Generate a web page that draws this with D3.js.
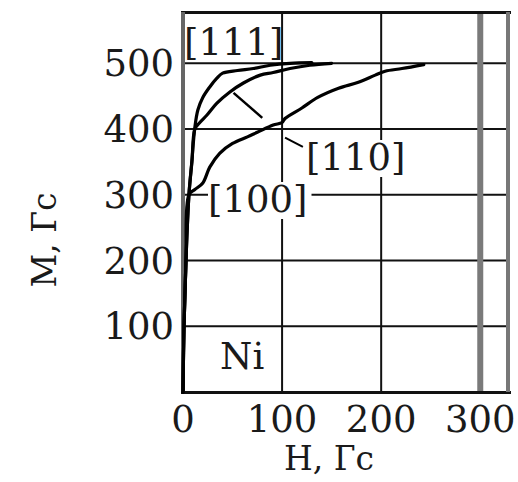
<!DOCTYPE html>
<html>
<head>
<meta charset="utf-8">
<script src="https://cdn.jsdelivr.net/npm/d3@7/dist/d3.min.js"></script>
<style>
  html, body { margin: 0; padding: 0; background: #fff; }
  svg { display: block; }
  text { font-family: "DejaVu Serif", serif; fill: #1a1a1a; }
</style>
</head>
<body>
<svg id="chart" width="518" height="482"></svg>
<script>
// ---- data (H in Oe, M in G) ----
const hTicks = [0, 100, 200, 300];
const mTicks = [100, 200, 300, 400, 500];
const hTickLabels = ["0", "100", "200", "300"];
const mTickLabels = ["100", "200", "300", "400", "500"];

const h111 = [0, 1, 3, 6, 9, 12, 15, 20, 27, 34, 40, 55, 71, 88, 108, 130];
const m111 = [0, 100, 200, 300, 352, 403, 429, 448, 464, 477, 485, 489, 492, 497, 500, 501];

const h110 = [0, 1, 3, 6, 9, 12, 17, 24, 34, 47, 61, 78, 91, 108, 128, 150];
const m110 = [0, 100, 200, 300, 350, 400, 410, 421, 439, 456, 470, 482, 486, 492, 497, 500];

const h100 = [0, 1, 3, 6, 12, 20, 27, 37, 50, 65, 75, 91, 100, 103, 120, 136, 157, 177, 194, 204, 221, 243];
const m100 = [0, 100, 200, 300, 308, 318, 342, 363, 378, 388, 395, 406, 410, 416, 432, 448, 462, 471, 482, 488, 492, 498];

const seriesNames = ["[111]", "[110]", "[100]"];
const materialLabel = "Ni";
const xTitle = "H, Гс";
const yTitle = "M, Гс";

// ---- layout ----
const svg = d3.select("#chart");
const x = d3.scaleLinear().domain([0, 328]).range([183, 508]);
const y = d3.scaleLinear().domain([0, 578]).range([392, 12]);

const gGrid = svg.append("g");
const gCurves = svg.append("g");
const gBg = svg.append("g");
const gText = svg.append("g");

// grid: horizontal
gGrid.append("g").selectAll("line").data(mTicks).join("line")
  .attr("x1", x(0)).attr("x2", x(328))
  .attr("y1", d => y(d)).attr("y2", d => y(d))
  .attr("stroke", "#111").attr("stroke-width", 2);

// grid: vertical
gGrid.append("g").selectAll("line").data(hTicks.filter(d => d > 0)).join("line")
  .attr("x1", d => x(d)).attr("x2", d => x(d))
  .attr("y1", y(578)).attr("y2", y(0))
  .attr("stroke", d => d === 300 ? "#7a7a7a" : "#111")
  .attr("stroke-width", d => d === 300 ? 6 : 2);

// frame
gGrid.append("rect").attr("x", x(0) - 2).attr("y", Math.round(y(578)) - 1)
  .attr("width", x(328) - x(0) + 5).attr("height", 3).attr("fill", "#111");
gGrid.append("rect").attr("x", x(0) - 2).attr("y", Math.round(y(0)) - 1)
  .attr("width", x(328) - x(0) + 5).attr("height", 3).attr("fill", "#111");
gGrid.append("rect").attr("x", x(0) - 2).attr("y", y(578))
  .attr("width", 4).attr("height", y(0) - y(578)).attr("fill", "#666");
gGrid.append("rect").attr("x", x(328) - 2).attr("y", y(578))
  .attr("width", 4).attr("height", y(0) - y(578)).attr("fill", "#777");

// curves
const line = d3.line().x(d => x(d[0])).y(d => y(d[1])).curve(d3.curveCatmullRom.alpha(0.5));
const curves = [
  d3.zip(h111, m111),
  d3.zip(h110, m110),
  d3.zip(h100, m100)
];
gCurves.selectAll("path").data(curves).join("path")
  .attr("d", line)
  .attr("fill", "none").attr("stroke", "#000").attr("stroke-width", 3.2)
  .attr("stroke-linejoin", "round").attr("stroke-linecap", "round");

// leader lines
gCurves.append("line").attr("x1", x(51)).attr("y1", y(455)).attr("x2", x(80)).attr("y2", y(417))
  .attr("stroke", "#000").attr("stroke-width", 2.5);
gCurves.append("line").attr("x1", x(103)).attr("y1", y(387)).attr("x2", x(121)).attr("y2", y(373))
  .attr("stroke", "#000").attr("stroke-width", 2);

// series labels
const fs = 37;
function label(txt, px, py, bg) {
  const t = gText.append("text").attr("x", px).attr("y", py)
    .attr("font-size", fs).text(txt);
  if (bg) {
    const b = t.node().getBBox();
    gBg.append("rect").attr("x", b.x).attr("y", b.y + 4)
      .attr("width", b.width + 4).attr("height", b.height - 6).attr("fill", "#fff");
  }
  return t;
}
label(seriesNames[0], 184, 55, false);
label(seriesNames[1], 306, 170, true);
label(seriesNames[2], 208, 212, true);
label(materialLabel, 220, 369, false);

// tick labels
gText.append("g").selectAll("text").data(mTicks).join("text")
  .attr("x", 174).attr("y", d => y(d) + 13)
  .attr("text-anchor", "end").attr("font-size", fs)
  .text((d, i) => mTickLabels[i]);
gText.append("g").selectAll("text").data(hTicks).join("text")
  .attr("x", d => x(d)).attr("y", 432)
  .attr("text-anchor", "middle").attr("font-size", fs)
  .text((d, i) => hTickLabels[i]);

// axis titles
gText.append("text").attr("x", 329).attr("y", 470).attr("text-anchor", "middle")
  .attr("font-size", 33).text(xTitle);
gText.append("text").attr("transform", "translate(56,240) rotate(-90)")
  .attr("text-anchor", "middle").attr("font-size", 33).text(yTitle);
</script>
</body>
</html>
